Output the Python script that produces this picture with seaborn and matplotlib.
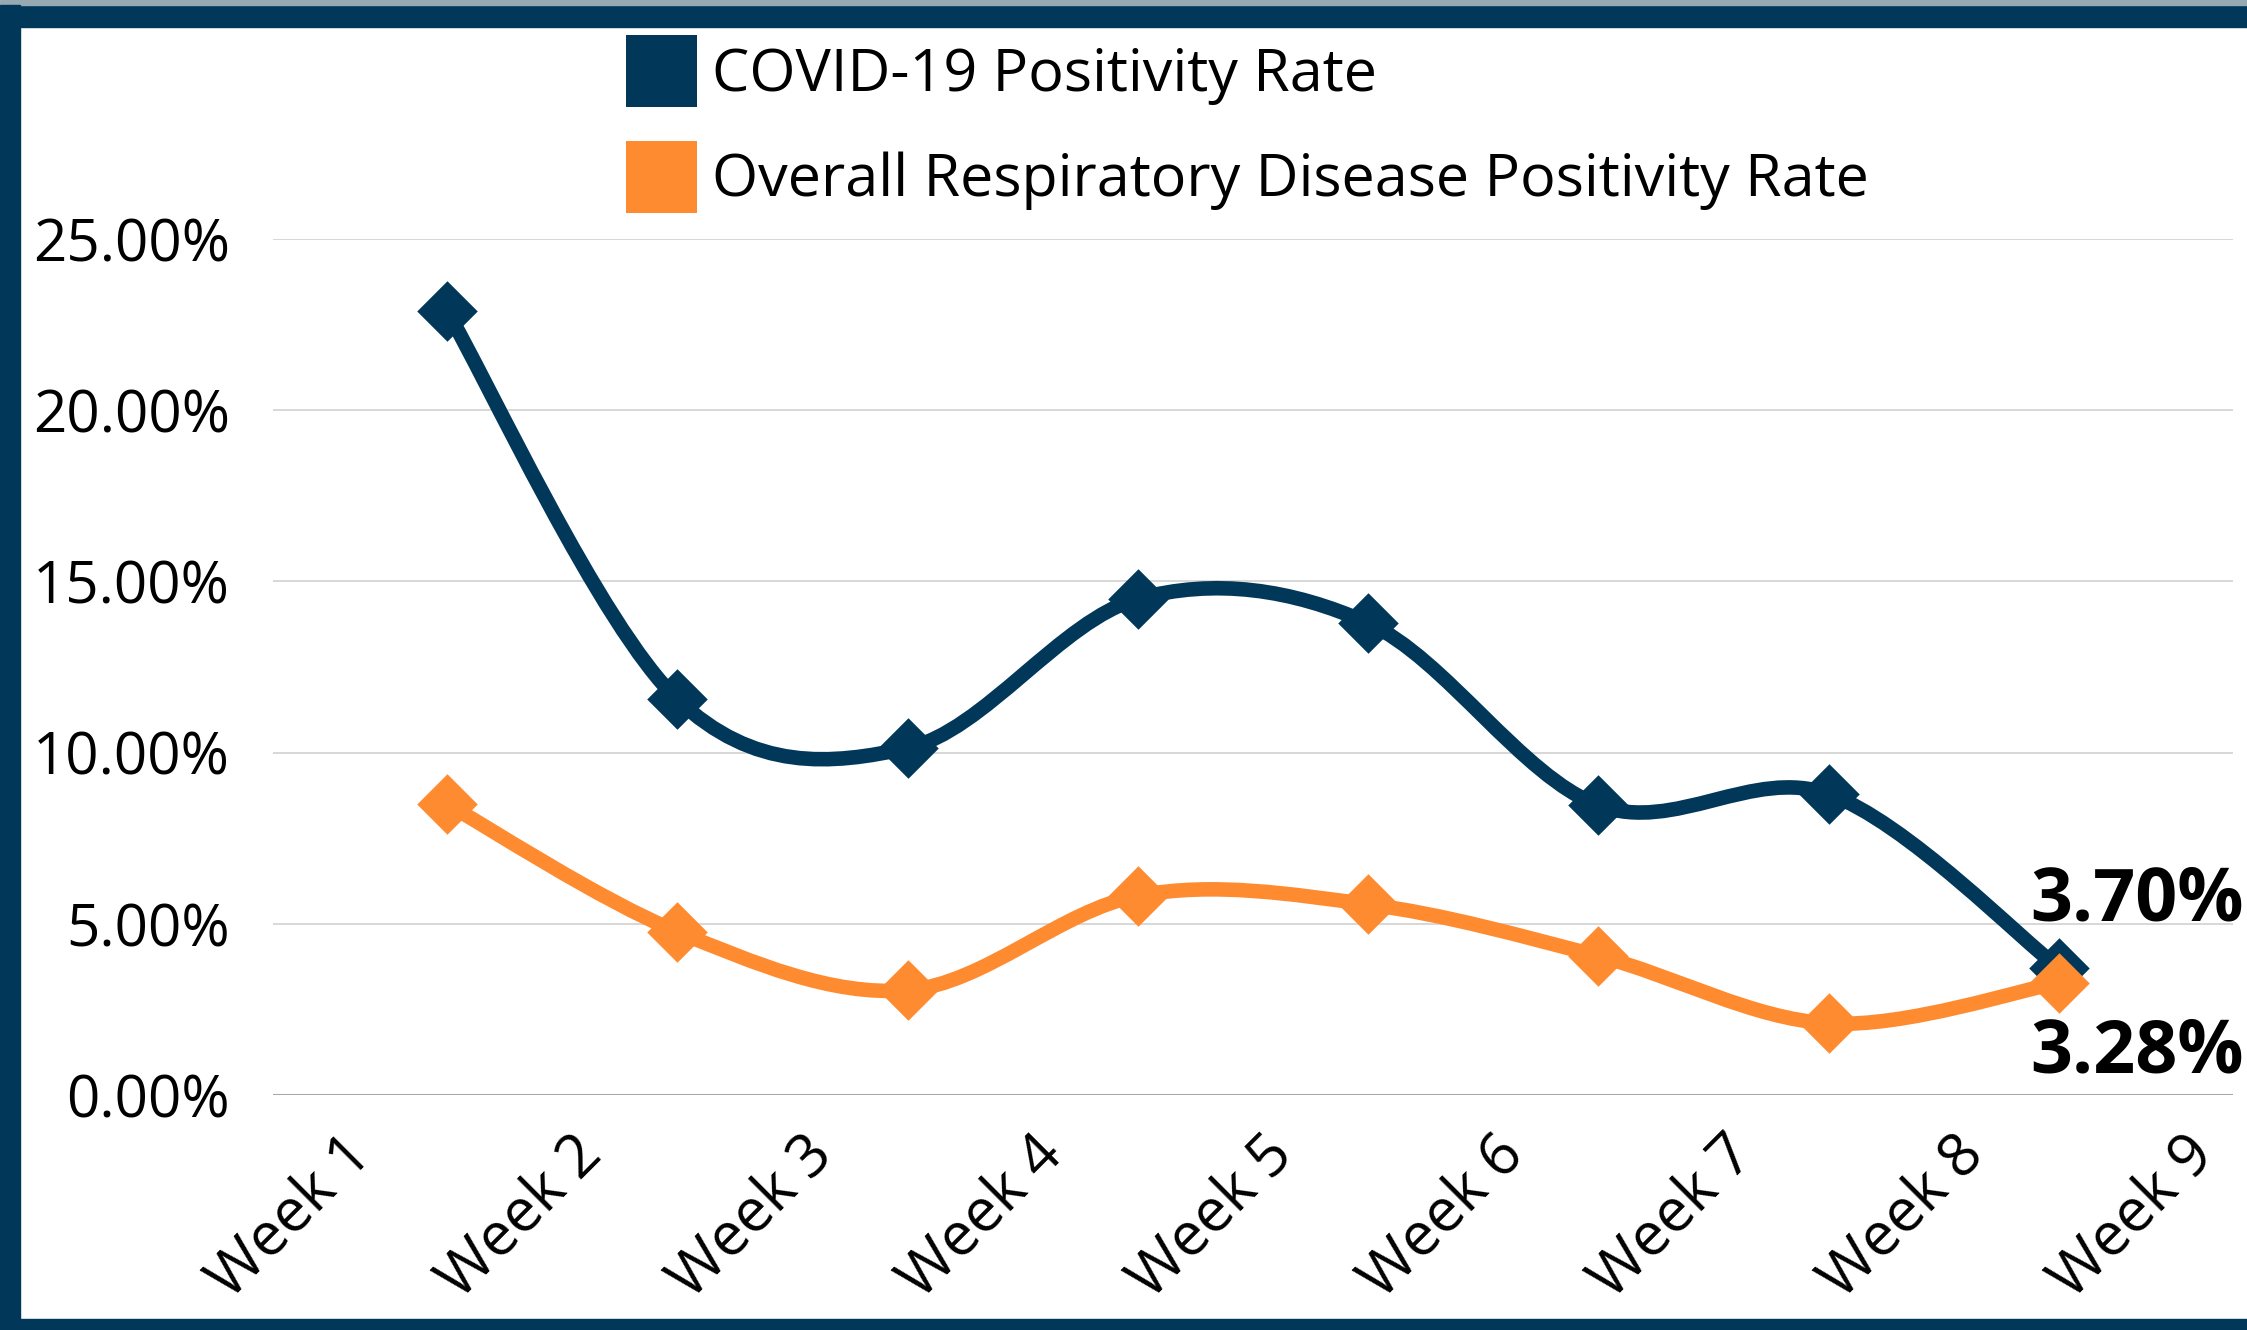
import numpy as np
import pandas as pd
import matplotlib
matplotlib.use("Agg")
import matplotlib.pyplot as plt
import seaborn as sns
from matplotlib.path import Path
from matplotlib.patches import PathPatch, Patch, Rectangle
from matplotlib.ticker import PercentFormatter

# data
weeks = ["Week 1", "Week 2", "Week 3", "Week 4", "Week 5", "Week 6", "Week 7", "Week 8", "Week 9"]
covid_rate = [0.2290, 0.1156, 0.1013, 0.1449, 0.1378, 0.0846, 0.0879, 0.0370]
resp_rate = [0.0850, 0.0477, 0.0306, 0.0582, 0.0557, 0.0406, 0.0209, 0.0328]
series_names = ["COVID-19 Positivity Rate", "Overall Respiratory Disease Positivity Rate"]

NAVY = "#01385a"
ORANGE = "#ff8b30"

sns.set_theme(style="white")
plt.rcParams['font.family'] = ['Open Sans', 'DejaVu Sans']
plt.rcParams['text.color'] = 'black'

df = pd.DataFrame({
    "idx": list(range(len(covid_rate))) * 2,
    "rate": covid_rate + resp_rate,
    "series": [series_names[0]] * len(covid_rate) + [series_names[1]] * len(resp_rate),
})

fig = plt.figure(figsize=(22.47, 13.30), dpi=100)
W, H = 2247, 1330
ax = fig.add_axes([273 / W, 1 - 1095 / H, (2233 - 273) / W, (1095 - 239) / H])


def smooth_path(xs, ys):
    # bezier segments like Excel's smoothed line (catmull-rom control points)
    pts = np.column_stack([xs, ys]).astype(float)
    ext = np.vstack([pts[0], pts, pts[-1]])
    verts = [tuple(pts[0])]
    codes = [Path.MOVETO]
    for i in range(len(pts) - 1):
        p0, p1, p2, p3 = ext[i], ext[i + 1], ext[i + 2], ext[i + 3]
        c1 = p1 + (p2 - p0) / 6
        c2 = p2 - (p3 - p1) / 6
        verts += [tuple(c1), tuple(c2), tuple(p2)]
        codes += [Path.CURVE4] * 3
    return Path(verts, codes)


for name, color in zip(series_names, [NAVY, ORANGE]):
    sub = df[df["series"] == name]
    ax.add_patch(PathPatch(smooth_path(sub["idx"], sub["rate"]), fill=False,
                           edgecolor=color, lw=10.5, zorder=3, clip_on=False))
    sns.scatterplot(data=sub, x="idx", y="rate", ax=ax, marker="D", s=950,
                    color=color, linewidth=0, zorder=4, clip_on=False, legend=False)

ax.set_xlim(-0.755, 7.755)
ax.set_ylim(0, 0.25)
ax.set_yticks(np.arange(0, 0.2501, 0.05))
ax.yaxis.set_major_formatter(PercentFormatter(xmax=1, decimals=2))
ax.grid(axis="y", color="#d4d4d4", lw=1.3)
ax.set_axisbelow(True)
for s in ax.spines.values():
    s.set_visible(False)
ax.axhline(0, color="#a8a8a8", lw=1.5, zorder=1)

ax.set_xticks(np.arange(len(weeks)) - 0.46)
ax.set_xticklabels(weeks, rotation=45, ha="right", va="top", rotation_mode="anchor")
ax.tick_params(axis="x", length=0, pad=21, labelsize=43, labelcolor="black")
ax.tick_params(axis="y", length=0, pad=31, labelsize=42, labelcolor="black")
ax.set_xlabel("")
ax.set_ylabel("")

# end labels
ax.annotate(f"{covid_rate[-1]*100:.2f}%", (len(covid_rate) - 1, covid_rate[-1]),
            xytext=(56, 48), textcoords="offset points", ha="center", va="center",
            fontsize=53, fontweight="bold", color="black", annotation_clip=False)
ax.annotate(f"{resp_rate[-1]*100:.2f}%", (len(resp_rate) - 1, resp_rate[-1]),
            xytext=(56, -51), textcoords="offset points", ha="center", va="center",
            fontsize=53, fontweight="bold", color="black", annotation_clip=False)

handles = [Patch(facecolor=NAVY, edgecolor="none"), Patch(facecolor=ORANGE, edgecolor="none")]
fig.legend(handles, series_names, loc="upper left", bbox_to_anchor=(626 / W, 1 - 35 / H),
           frameon=False, fontsize=42.7, handlelength=1.2, handleheight=1.5,
           handletextpad=0.25, labelspacing=0.56, borderpad=0, borderaxespad=0,
           labelcolor="black")

# frame bands
fig.patches.append(Rectangle((0, 1 - 27 / H), 1, 22 / H, transform=fig.transFigure, color=NAVY, zorder=0))
fig.patches.append(Rectangle((0, 1 - 5 / H), 1, 5 / H, transform=fig.transFigure, color="#97aab4", zorder=0))
fig.patches.append(Rectangle((0, 0), 20 / W, 1 - 5 / H, transform=fig.transFigure, color=NAVY, zorder=0))
fig.patches.append(Rectangle((0, 0), 1, 11 / H, transform=fig.transFigure, color=NAVY, zorder=0))

fig.savefig("out.png", dpi=100)
